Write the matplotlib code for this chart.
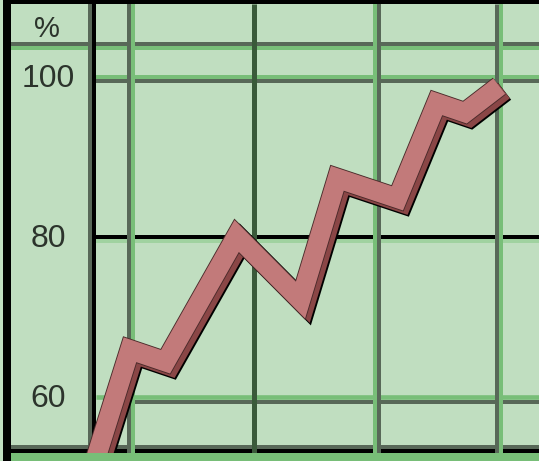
import matplotlib
matplotlib.use('Agg')
import matplotlib.pyplot as plt
import matplotlib.patheffects as pe
from matplotlib.patches import Rectangle
from matplotlib.transforms import offset_copy

# values
periods = [0.67, 0.99, 1.28, 1.86, 2.38, 2.68, 3.17, 3.49, 3.72, 4.0]
percent = [50.6, 66.2, 64.7, 80.4, 72.4, 87.6, 85.1, 97.0, 95.8, 99.1]
y_ticks = [100, 80, 60]
y_labels = ['100', '80', '60']
x_grid = [1, 2, 3, 4]

W, H = 539, 461
bg = '#c0dec0'
green = '#78be78'
grey = '#586858'
darkgreen = '#3a5a3a'
ink = '#2c342c'

fig = plt.figure(figsize=(W / 100, H / 100), dpi=100)
fig.patch.set_facecolor(bg)
ax = fig.add_axes([0, 0, 1, 1])
ax.set_facecolor(bg)
ax.set_xlim(-0.069, 4.3235)
ax.set_ylim(52.31, 109.86)
ax.axis('off')


def band(x0, y0, x1, y1, color, z):
    # frame pieces, given in pixels from the top left corner
    ax.add_patch(Rectangle((x0 / W, 1 - y1 / H), (x1 - x0) / W, (y1 - y0) / H,
                           transform=ax.transAxes, color=color, lw=0, zorder=z))


def hgrid(y, x0px, color, dy, wpx, z):
    tr = offset_copy(ax.get_yaxis_transform(), fig=fig, x=0, y=-dy, units='dots')
    ax.plot([x0px / W, 1], [y, y], transform=tr, color=color, lw=wpx * 0.72,
            solid_capstyle='butt', zorder=z)


def vgrid(x, color, dx, wpx, z):
    tr = offset_copy(ax.get_xaxis_transform(), fig=fig, x=dx, y=0, units='dots')
    ax.plot([x, x], [1 - 453 / H, 1 - 4 / H], transform=tr, color=color,
            lw=wpx * 0.72, solid_capstyle='butt', zorder=z)


# outer frame
band(3, 0, W, 4, 'black', 6)
band(3, 0, 11, H, 'black', 6)
band(11, 42, W, 46, grey, 2)
band(11, 46, W, 50, green, 2)
band(88, 4, 92, 453, grey, 3)
band(92, 4, 96, 453, 'black', 3)
band(11, 445, W, 449, grey, 1)
band(11, 449, W, 453, 'black', 1)
band(11, 453, W, H, green, 6)

# horizontal grid
hgrid(y_ticks[0], 96, green, -2, 4, 1)
hgrid(y_ticks[0], 96, grey, 2, 4, 1)
hgrid(y_ticks[1], 96, 'black', -2, 4, 1)
hgrid(y_ticks[1], 96, '#a0d2a0', 2, 4, 1)
hgrid(y_ticks[2], 96, green, -2.3, 4.6, 1)
hgrid(y_ticks[2], 133, grey, 2.3, 4, 1)

# vertical grid
vgrid(x_grid[0], grey, -2, 4, 2)
vgrid(x_grid[0], green, 2, 4, 2)
vgrid(x_grid[1], darkgreen, 0.5, 5, 2)
vgrid(x_grid[2], green, -2, 4, 2)
vgrid(x_grid[2], grey, 2, 4, 2)
vgrid(x_grid[3], grey, -2.5, 5, 2)
vgrid(x_grid[3], green, 2, 4, 2)

# labels
for v, lab in zip(y_ticks, y_labels):
    ax.text(48 / W, v, lab, transform=ax.get_yaxis_transform(), ha='center',
            va='center', fontsize=23, family='Liberation Sans', color=ink, zorder=4)
ax.text(47 / W, 1 - 29 / H, '%', transform=ax.transAxes, ha='center', va='center',
        fontsize=21, family='Liberation Sans', color=ink, zorder=4)

# the thick line with its shadow
ax.plot(periods, percent, color='#c27a7a', lw=14, solid_joinstyle='miter',
        solid_capstyle='butt', zorder=5,
        path_effects=[
            pe.SimpleLineShadow(offset=(3.8, -3.6), shadow_color='black', alpha=1,
                                linewidth=15.5),
            pe.SimpleLineShadow(offset=(3.3, -3.2), shadow_color='#8a4646', alpha=1,
                                linewidth=14),
            pe.Stroke(linewidth=15.3, foreground='#4a2a2a'),
            pe.Normal()])

plt.savefig('out.png', dpi=100, facecolor=bg)
